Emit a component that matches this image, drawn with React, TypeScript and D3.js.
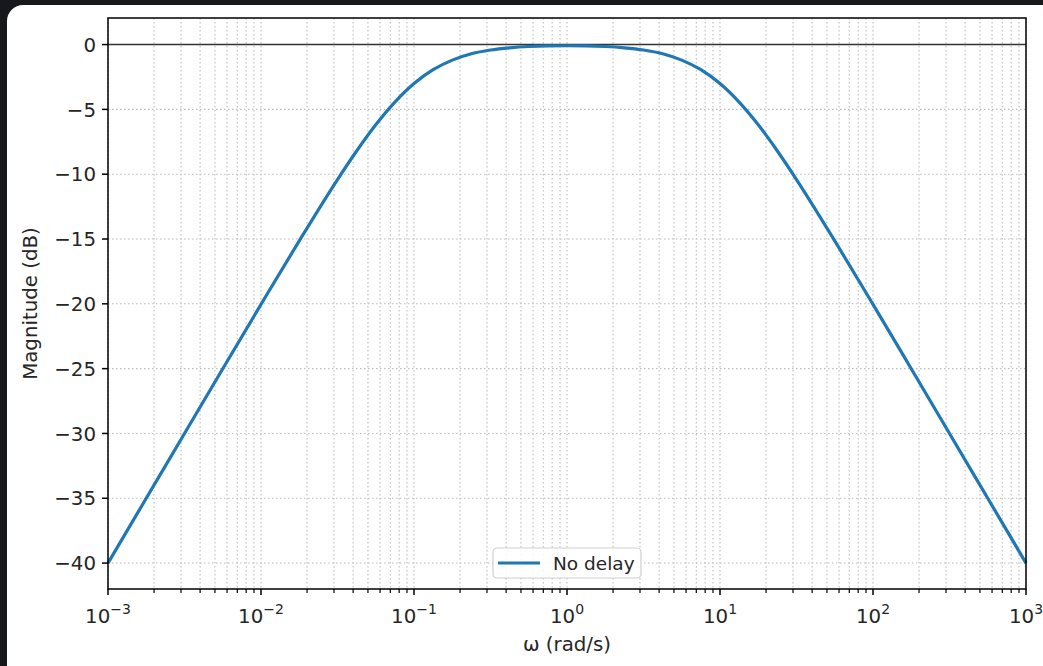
import React from "react";
import * as d3 from "d3";

// log10(ω) sample positions and magnitude (dB)
const logOmega = [-3, -2.75, -2.5, -2.25, -2, -1.75, -1.5, -1.375, -1.25, -1.125, -1, -0.875, -0.75, -0.625, -0.5, -0.375, -0.25, -0.125, 0,
  0.125, 0.25, 0.375, 0.5, 0.625, 0.75, 0.875, 1, 1.125, 1.25, 1.375, 1.5, 1.75, 2, 2.25, 2.5, 2.75, 3];
const magnitudeDb = [-40.0, -35.0, -30.0, -25.01, -20.04, -15.14, -10.41, -8.21, -6.19, -4.44, -3.01, -1.94, -1.2, -0.71, -0.42, -0.25, -0.15, -0.1, -0.09,
  -0.1, -0.15, -0.25, -0.42, -0.71, -1.2, -1.94, -3.01, -4.44, -6.19, -8.21, -10.41, -15.14, -20.04, -25.01, -30.0, -35.0, -40.0];
const yTicks = [0, -5, -10, -15, -20, -25, -30, -35, -40];
const xDecades = [-3, -2, -1, 0, 1, 2, 3];
const seriesName = "No delay";
const xLabel = "ω (rad/s)";
const yLabel = "Magnitude (dB)";

const W = 1043, H = 666;
const L = 108, R = 1026, T = 18, B = 589;
const FONT = "DejaVu Sans, sans-serif";
const FS = 19.8;

export default function App() {
  const x = d3.scaleLog().domain([1e-3, 1e3]).range([L, R]);
  const y = d3.scaleLinear().domain([-42, 2.05]).range([B, T]);
  const pts = logOmega.map((k, i) => [Math.pow(10, k), magnitudeDb[i]] as [number, number]);
  const line = d3.line<[number, number]>().x(d => x(d[0])).y(d => y(d[1])).curve(d3.curveMonotoneX);

  const minor: number[] = [];
  for (const k of xDecades.slice(0, -1)) for (let m = 2; m <= 9; m++) minor.push(m * Math.pow(10, k));

  const fmtMinus = (v: number) => (v < 0 ? "\u2212" + Math.abs(v) : String(v));

  return (
    <div style={{ position: "fixed", left: 0, top: 0 }}>
      <svg width={W} height={H} style={{ display: "block" }}>
        <rect x={0} y={0} width={W} height={H} fill="#16181c" />
        <rect x={7} y={5} width={W + 20} height={H + 10} rx={16} fill="#fff" />
        {/* grid */}
        <g stroke="#bdbdbd" strokeWidth={1.1} strokeDasharray="1.5,2.5">
          {minor.map((v, i) => <line key={"m" + i} x1={x(v)} x2={x(v)} y1={T} y2={B} />)}
          {xDecades.map(k => <line key={"d" + k} x1={x(Math.pow(10, k))} x2={x(Math.pow(10, k))} y1={T} y2={B} />)}
          {yTicks.map(v => <line key={"y" + v} x1={L} x2={R} y1={y(v)} y2={y(v)} />)}
        </g>
        {/* zero line */}
        <line x1={L} x2={R} y1={y(0)} y2={y(0)} stroke="#333" strokeWidth={1.5} />
        {/* curve */}
        <path d={line(pts) || ""} fill="none" stroke="#1f77b4" strokeWidth={3.2} />
        {/* spines */}
        <rect x={L} y={T} width={R - L} height={B - T} fill="none" stroke="#000" strokeWidth={1.5} />
        {/* y ticks */}
        {yTicks.map(v => (
          <g key={"yt" + v}>
            <line x1={L - 6} x2={L} y1={y(v)} y2={y(v)} stroke="#000" strokeWidth={1.5} />
            <text x={L - 12} y={y(v)} dy="0.36em" textAnchor="end" fontFamily={FONT} fontSize={FS} fill="#262626">{fmtMinus(v)}</text>
          </g>
        ))}
        {/* x ticks */}
        {minor.map((v, i) => <line key={"mt" + i} x1={x(v)} x2={x(v)} y1={B} y2={B + 4} stroke="#000" strokeWidth={1.2} />)}
        {xDecades.map(k => (
          <g key={"xt" + k}>
            <line x1={x(Math.pow(10, k))} x2={x(Math.pow(10, k))} y1={B} y2={B + 6} stroke="#000" strokeWidth={1.5} />
            <text x={x(Math.pow(10, k))} y={622.5} textAnchor="middle" fontFamily={FONT} fontSize={FS} fill="#262626">
              10<tspan fontSize={14} dy={-8.5}>{fmtMinus(k)}</tspan>
            </text>
          </g>
        ))}
        {/* axis labels */}
        <text x={567} y={651} textAnchor="middle" fontFamily={FONT} fontSize={FS} fill="#262626">{xLabel}</text>
        <text transform={`translate(37,${(T + B) / 2}) rotate(-90)`} textAnchor="middle" fontFamily={FONT} fontSize={FS} fill="#262626">{yLabel}</text>
        {/* legend */}
        <g>
          <rect x={493} y={548} width={148} height={30} rx={4} fill="#fff" fillOpacity={0.85} stroke="#d0d0d0" strokeWidth={1.2} />
          <line x1={498} x2={540} y1={563} y2={563} stroke="#1f77b4" strokeWidth={3.2} />
          <text x={553} y={570} fontFamily={FONT} fontSize={18.5} fill="#262626">{seriesName}</text>
        </g>
      </svg>
    </div>
  );
}
